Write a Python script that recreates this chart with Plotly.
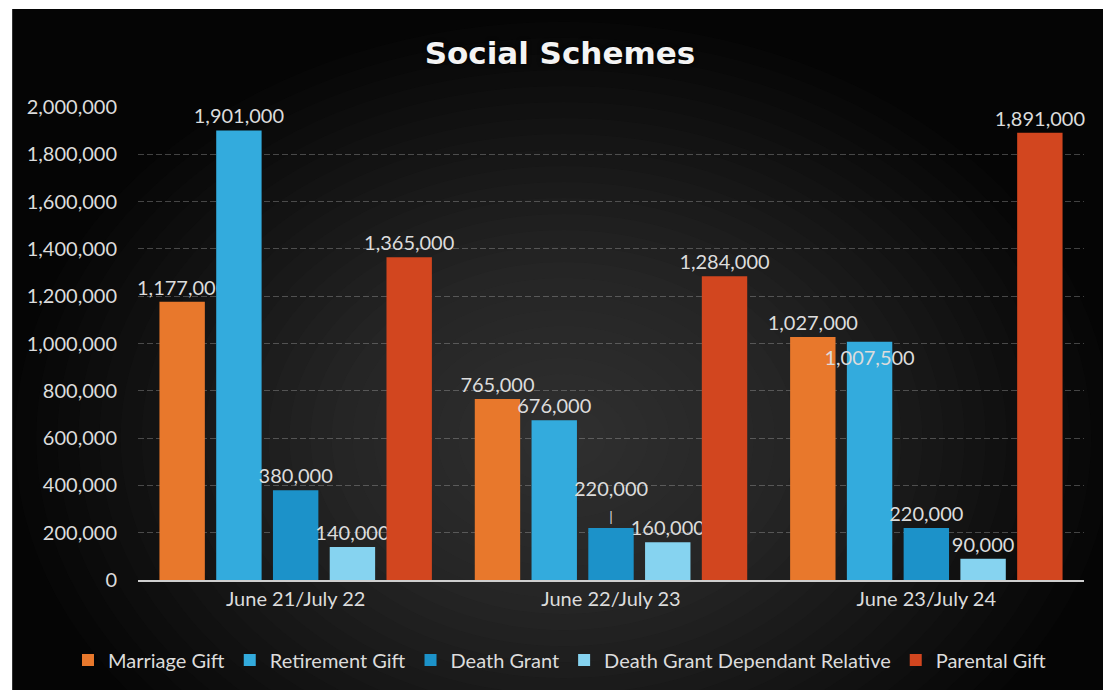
import plotly.graph_objects as go

categories = ["June 21/July 22", "June 22/July 23", "June 23/July 24"]
series_names = ["Marriage Gift", "Retirement Gift", "Death Grant",
                "Death Grant Dependant Relative", "Parental Gift"]
marriage_gift = [1177000, 765000, 1027000]
retirement_gift = [1901000, 676000, 1007500]
death_grant = [380000, 220000, 220000]
death_grant_dependant = [140000, 160000, 90000]
parental_gift = [1365000, 1284000, 1891000]
y_ticks = [0, 200000, 400000, 600000, 800000, 1000000, 1200000,
           1400000, 1600000, 1800000, 2000000]

values = [marriage_gift, retirement_gift, death_grant, death_grant_dependant, parental_gift]
colors = ["#E8782C", "#33ABDD", "#1C92C9", "#86D3F0", "#D2461F"]
# label placement per point (the 1,007,500 label sits inside its bar in the original)
positions = [["outside"] * 3,
             ["outside", "outside", "inside"],
             ["outside"] * 3,
             ["outside"] * 3,
             ["outside"] * 3]
# leader line under one raised label in the original
suffixes = [["", "", ""],
            ["", "", ""],
            ["", "<br><span style='font-size:14px'>|</span>", ""],
            ["", "", ""],
            ["", "", ""]]

FONT = "Lato, Open Sans, sans-serif"
TXT = "#DCDCDC"

fig = go.Figure()
for name, vals, col, pos, suf in zip(series_names, values, colors, positions, suffixes):
    fig.add_trace(go.Bar(
        x=categories, y=vals, name=name,
        marker=dict(color=col, line=dict(width=0)),
        text=[f"{v:,}{s}" for v, s in zip(vals, suf)],
        textposition=pos,
        insidetextanchor="end",
        textangle=0,
        constraintext="none",
        textfont=dict(family=FONT, size=20, color=TXT),
        insidetextfont=dict(family=FONT, size=20, color=TXT),
        outsidetextfont=dict(family=FONT, size=20, color=TXT),
        cliponaxis=False,
    ))

# background: thin white scan border, black panel, soft radial grey glow
shapes = [dict(type="rect", xref="paper", yref="paper",
               x0=-0.133, x1=1.03, y0=-0.6, y1=1.207,
               fillcolor="#050505", line=dict(width=0), layer="below")]
cx, cy = 0.45, 0.30
n = 26
for i in range(n):
    f = 1 - i / n
    rx = 0.58 * f
    ry = 0.88 * f
    shapes.append(dict(type="circle", xref="paper", yref="paper",
                       x0=cx - rx, x1=cx + rx, y0=cy - ry, y1=cy + ry,
                       fillcolor="rgba(110,110,110,0.028)", line=dict(width=0),
                       layer="below"))

fig.update_layout(
    width=1103, height=690,
    margin=dict(l=138, r=19, t=107, b=110, autoexpand=False),
    paper_bgcolor="white",
    plot_bgcolor="rgba(0,0,0,0)",
    shapes=shapes,
    barmode="group", bargap=0.1, bargroupgap=0.2,
    title=dict(text="<b>Social Schemes</b>", x=0.446, xref="paper", xanchor="center",
               y=0.923, yanchor="middle",
               font=dict(family="DejaVu Sans, sans-serif", size=31, color="#F4F4F4",
                         shadow="0px 0px 4px #000")),
    font=dict(family=FONT, color=TXT),
    legend=dict(orientation="h", x=-0.074, xanchor="left", y=-0.169, yanchor="middle",
                font=dict(family=FONT, size=20, color=TXT),
                bgcolor="rgba(0,0,0,0)", itemwidth=30, traceorder="normal"),
    xaxis=dict(showgrid=False, showline=True, linecolor="#CFCFCF", linewidth=2,
               ticks="", tickfont=dict(family=FONT, size=20, color=TXT)),
    yaxis=dict(range=[0, 2000000], tickvals=y_ticks, tickformat=",",
               showgrid=True, gridcolor="rgba(190,190,190,0.33)", griddash="6px,3px",
               gridwidth=1, zeroline=False, showline=False,
               ticks="", ticklabelstandoff=20,
               tickfont=dict(family=FONT, size=20, color=TXT)),
)

fig.write_html("out.html")
